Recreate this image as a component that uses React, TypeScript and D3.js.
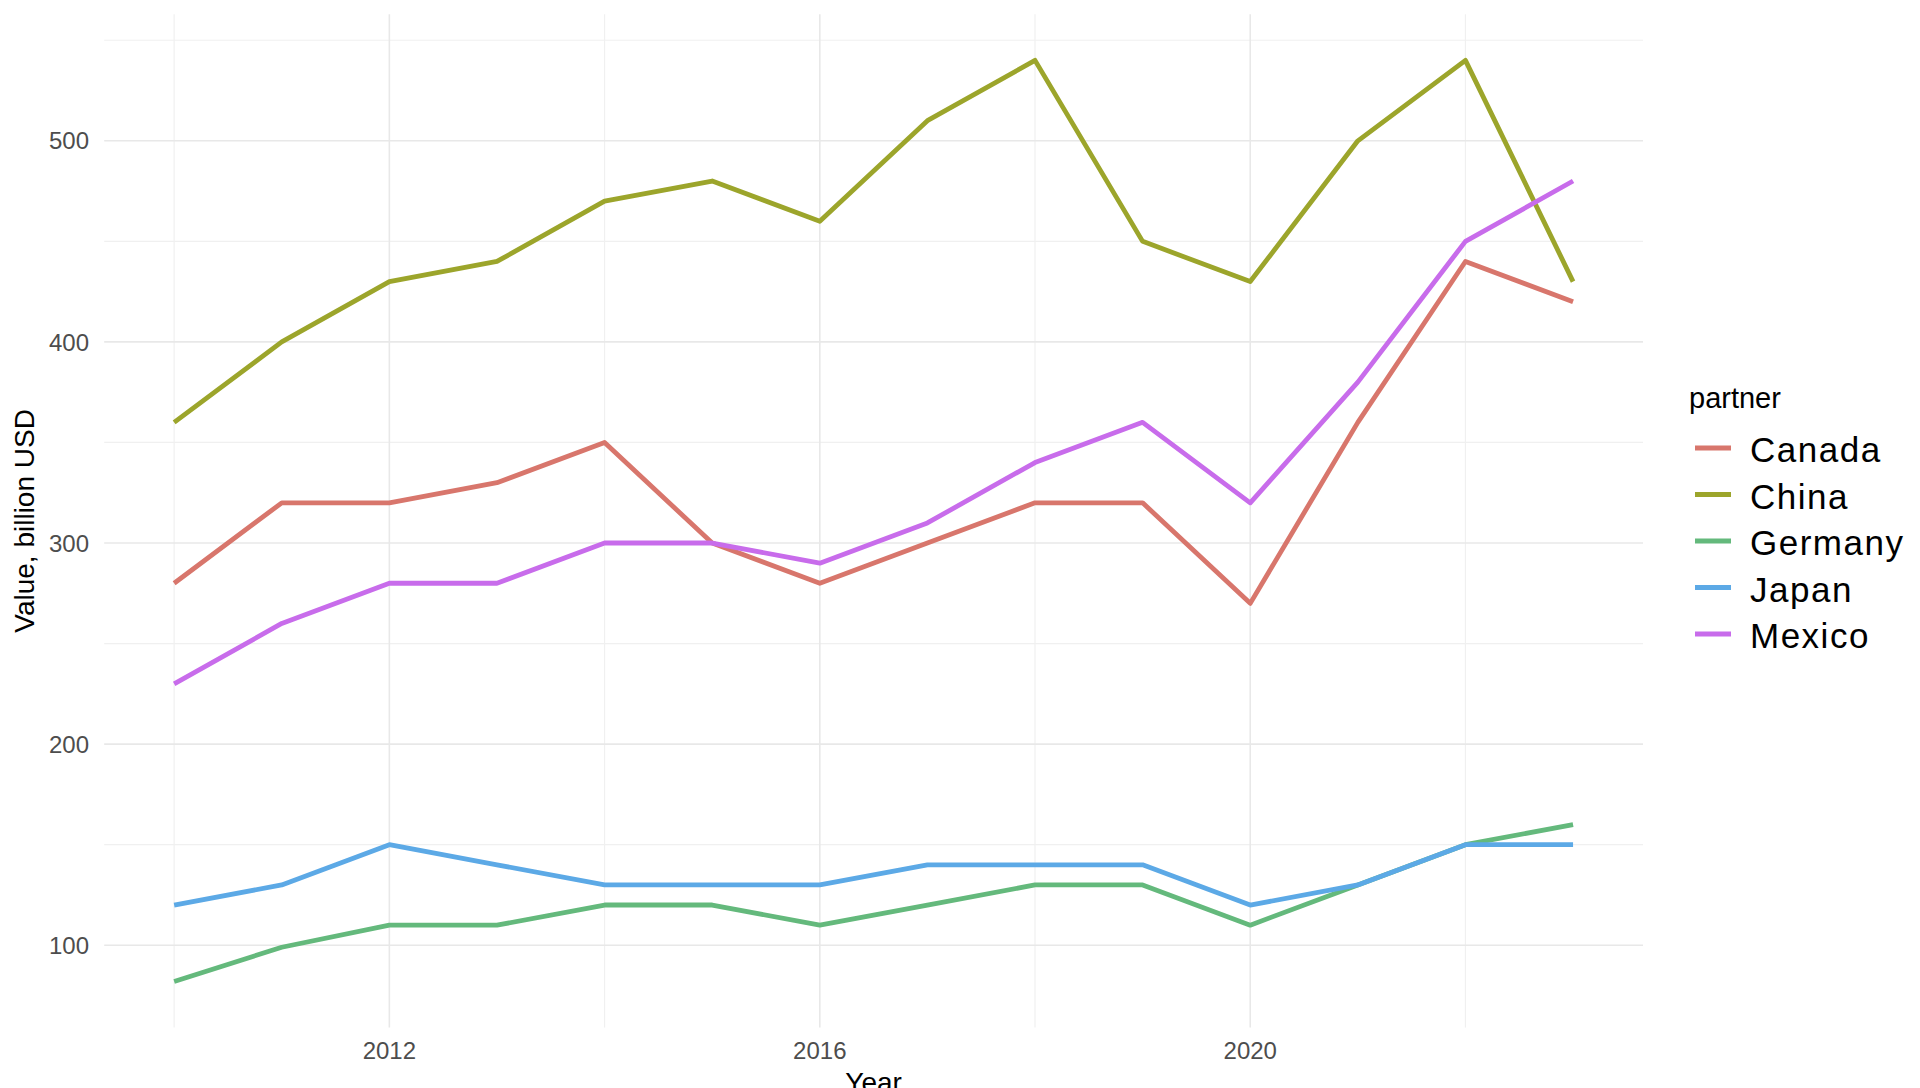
import React from "react";
import * as d3 from "d3";

const years = [2010, 2011, 2012, 2013, 2014, 2015, 2016, 2017, 2018, 2019, 2020, 2021, 2022, 2023];
const partners = ["Canada", "China", "Germany", "Japan", "Mexico"];
const canada = [280, 320, 320, 330, 350, 300, 280, 300, 320, 320, 270, 360, 440, 420];
const china = [360, 400, 430, 440, 470, 480, 460, 510, 540, 450, 430, 500, 540, 430];
const germany = [82, 99, 110, 110, 120, 120, 110, 120, 130, 130, 110, 130, 150, 160];
const japan = [120, 130, 150, 140, 130, 130, 130, 140, 140, 140, 120, 130, 150, 150];
const mexico = [230, 260, 280, 280, 300, 300, 290, 310, 340, 360, 320, 380, 450, 480];
const seriesValues = [canada, china, germany, japan, mexico];
const colors = ["#D8766C", "#9CA52B", "#64B97C", "#5CA9E6", "#C86CEB"];
const yMajor = [100, 200, 300, 400, 500];
const yMinor = [150, 250, 350, 450, 550];
const xMajor = [2012, 2016, 2020];
const xMinor = [2010, 2014, 2018, 2022];
const xTitle = "Year";
const yTitle = "Value, billion USD";
const legendTitle = "partner";

const FONT = "'Liberation Sans', Arial, Helvetica, sans-serif";

export default function App() {
  const W = 1920, H = 1088;
  const left = 104.2, right = 1643, top = 14.3, bottom = 1027.5;

  const allVals = seriesValues.flat();
  const yMin = d3.min(allVals)!, yMax = d3.max(allVals)!;
  const yPad = (yMax - yMin) * 0.05;
  const xMinV = d3.min(years)!, xMaxV = d3.max(years)!;
  const xPad = (xMaxV - xMinV) * 0.05;

  const x = d3.scaleLinear().domain([xMinV - xPad, xMaxV + xPad]).range([left, right]);
  const y = d3.scaleLinear().domain([yMin - yPad, yMax + yPad]).range([bottom, top]);

  const line = d3.line<number>().x((_, i) => x(years[i])).y((v) => y(v));

  const legendX = 1689;
  const keyY0 = 448;
  const keyStep = 46.5;

  return (
    <svg width={W} height={H} style={{ position: "absolute", left: 0, top: 0, background: "#fff" }} fontFamily={FONT}>
      <rect x={0} y={0} width={W} height={H} fill="#fff" />
      {/* minor grid */}
      {yMinor.map((v) => (
        <line key={"ym" + v} x1={left} x2={right} y1={y(v)} y2={y(v)} stroke="#F0F0F0" strokeWidth={1.2} />
      ))}
      {xMinor.map((v) => (
        <line key={"xm" + v} x1={x(v)} x2={x(v)} y1={top} y2={bottom} stroke="#F0F0F0" strokeWidth={1.2} />
      ))}
      {/* major grid */}
      {yMajor.map((v) => (
        <line key={"yM" + v} x1={left} x2={right} y1={y(v)} y2={y(v)} stroke="#E8E8E8" strokeWidth={1.6} />
      ))}
      {xMajor.map((v) => (
        <line key={"xM" + v} x1={x(v)} x2={x(v)} y1={top} y2={bottom} stroke="#E8E8E8" strokeWidth={1.6} />
      ))}
      {/* lines */}
      {seriesValues.map((vals, i) => (
        <path key={partners[i]} d={line(vals) || ""} fill="none" stroke={colors[i]} strokeWidth={4.8}
          strokeLinejoin="round" strokeLinecap="butt" />
      ))}
      {/* y tick labels */}
      {yMajor.map((v) => (
        <text key={"yt" + v} x={89} y={y(v)} dy="0.36em" textAnchor="end" fontSize={24} fill="#4D4D4D">
          {v}
        </text>
      ))}
      {/* x tick labels */}
      {xMajor.map((v) => (
        <text key={"xt" + v} x={x(v)} y={1059} textAnchor="middle" fontSize={24} fill="#4D4D4D">
          {v}
        </text>
      ))}
      {/* axis titles */}
      <text x={(left + right) / 2} y={1092} textAnchor="middle" fontSize={28} fill="#000">
        {xTitle}
      </text>
      <text transform={`translate(34, ${(top + bottom) / 2}) rotate(-90)`} textAnchor="middle" fontSize={28} fill="#000">
        {yTitle}
      </text>
      {/* legend */}
      <text x={legendX} y={408} fontSize={29} fill="#000">
        {legendTitle}
      </text>
      {partners.map((p, i) => {
        const ky = keyY0 + i * keyStep;
        return (
          <g key={"lg" + p}>
            <line x1={1695} x2={1731} y1={ky} y2={ky} stroke={colors[i]} strokeWidth={4.8} />
            <text x={1750} y={ky + 14} fontSize={35} letterSpacing={1.5} fill="#000">
              {p}
            </text>
          </g>
        );
      })}
    </svg>
  );
}
